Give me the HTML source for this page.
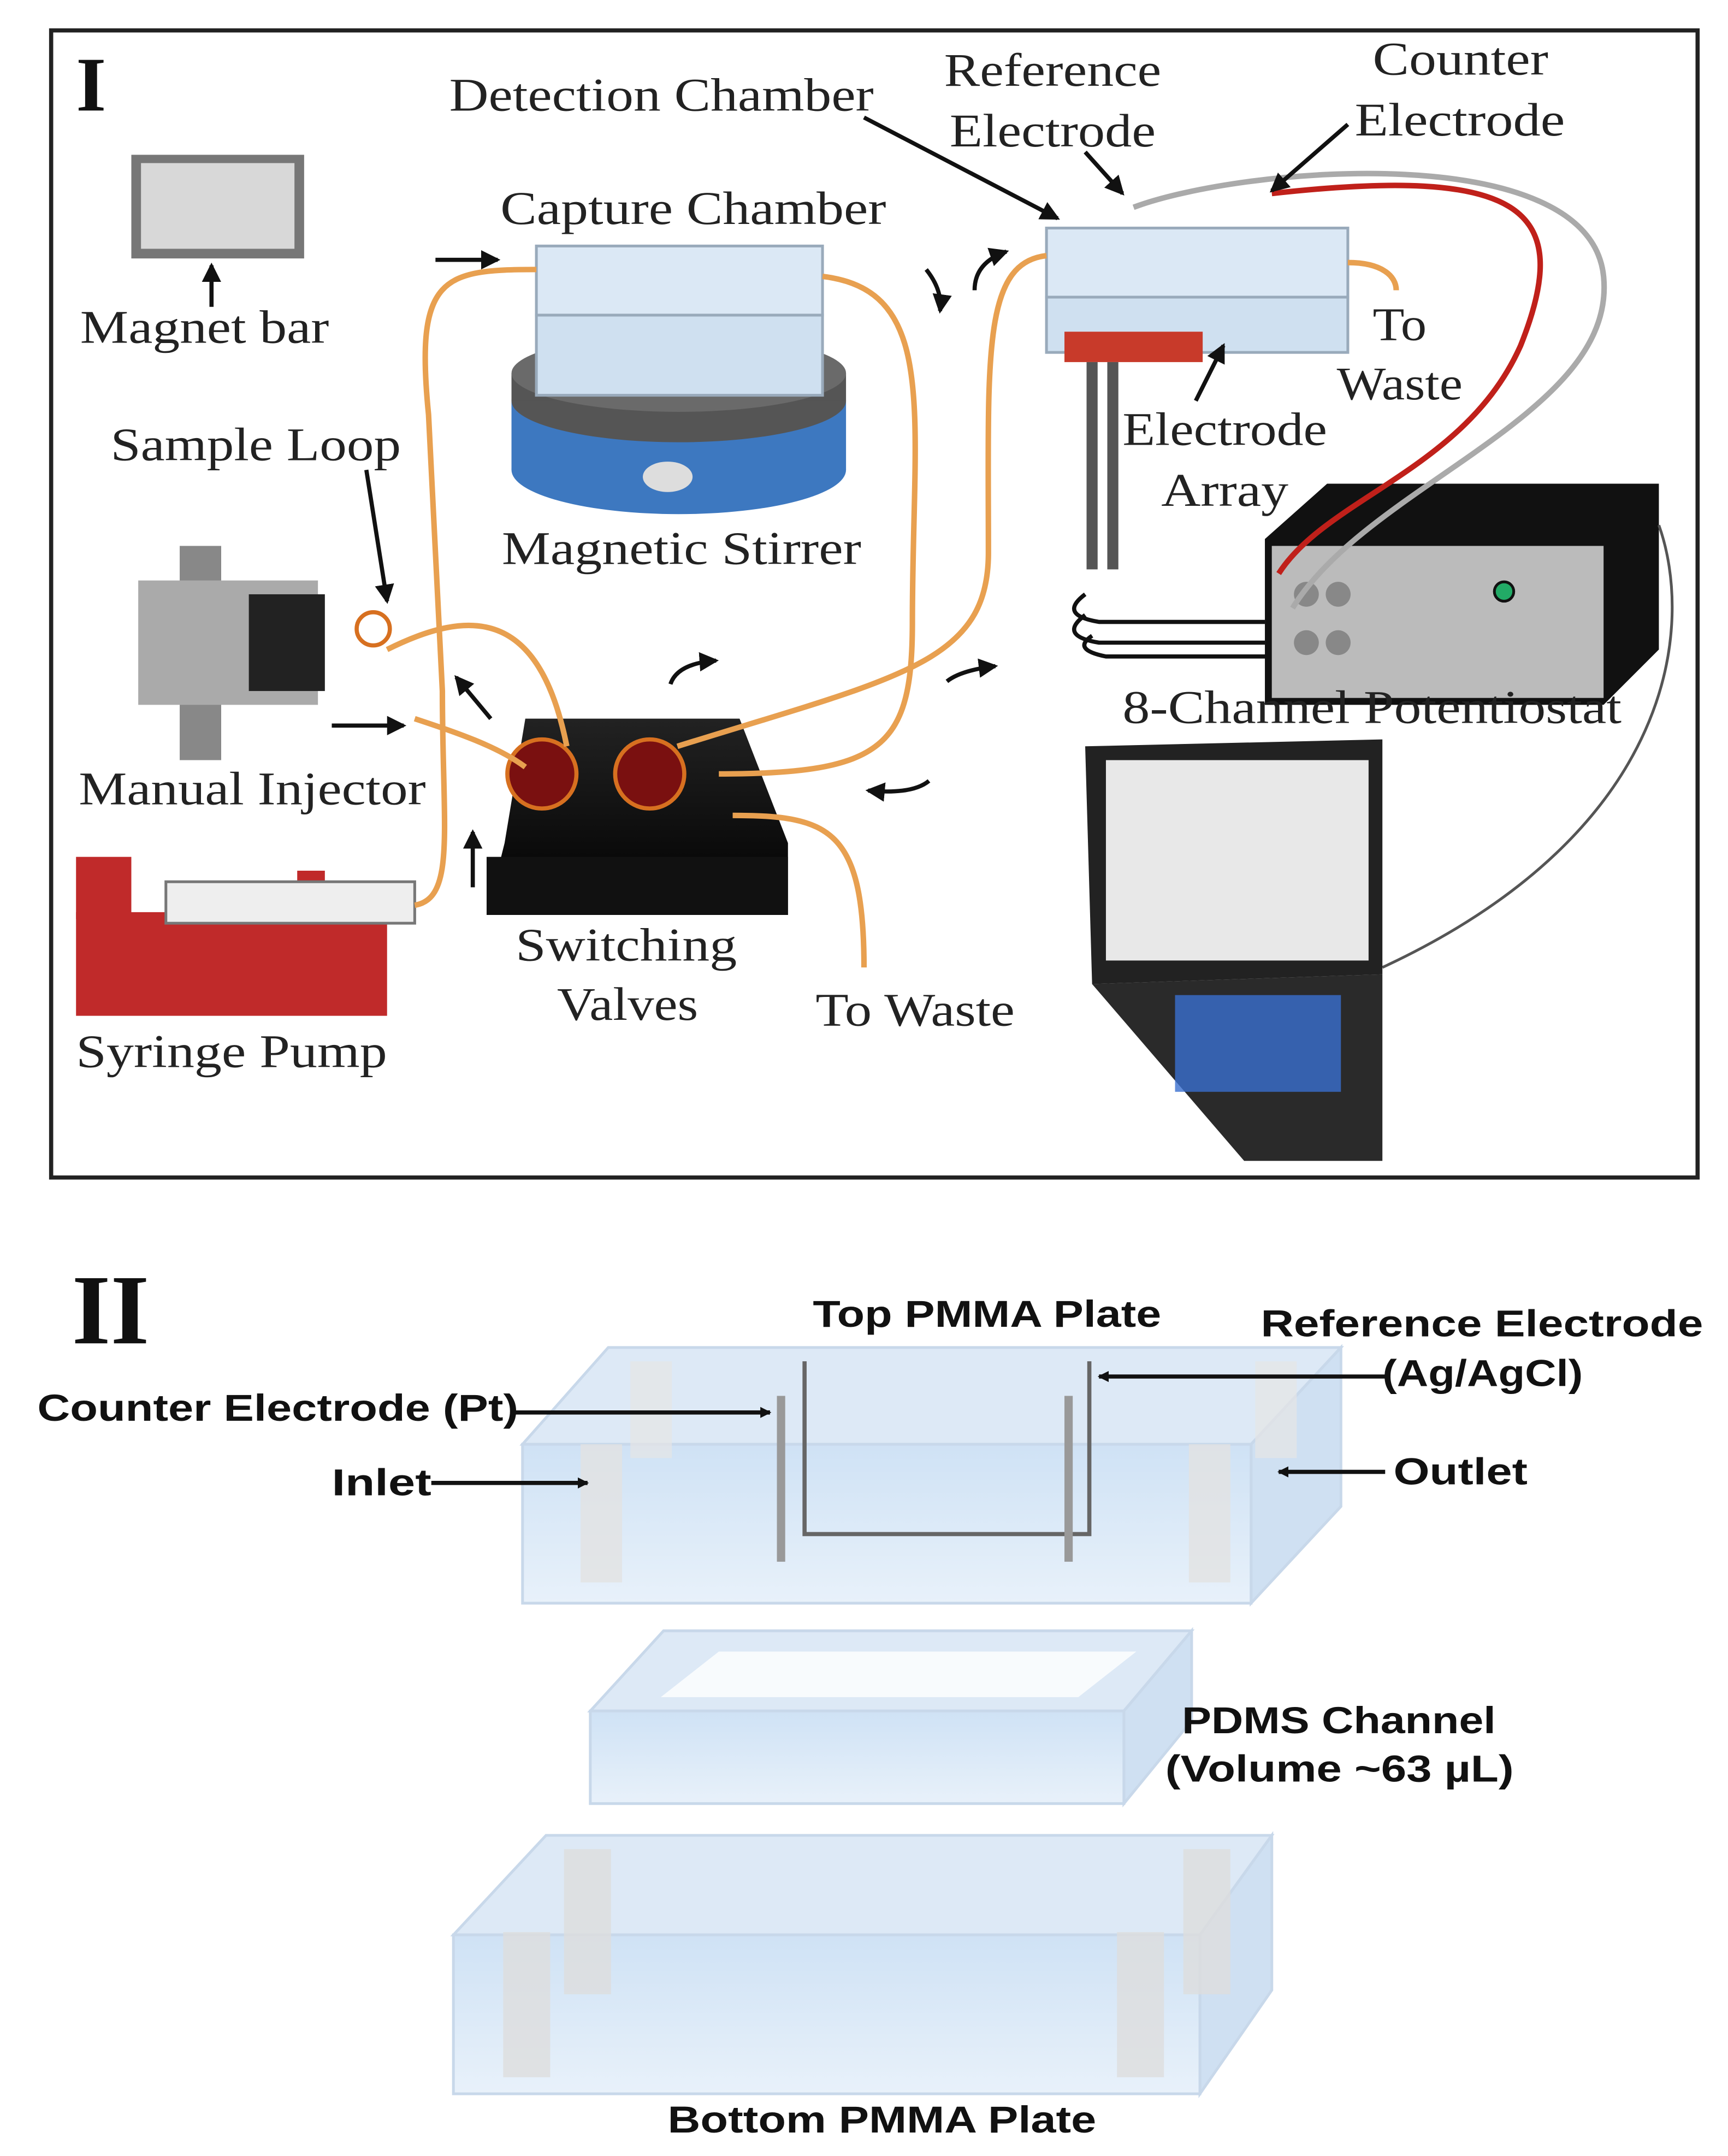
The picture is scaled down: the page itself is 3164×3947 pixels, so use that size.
<!DOCTYPE html>
<html><head><meta charset="utf-8">
<style>
html,body{margin:0;padding:0;background:#fff;}
svg{display:block;}
.s{font-family:"Liberation Serif",serif;font-size:34px;fill:#222;}
.b{font-family:"Liberation Sans",sans-serif;font-weight:bold;font-size:27px;fill:#111;}
.tube{fill:none;stroke:#e8a050;stroke-width:4;}
.ar{fill:none;stroke:#111;stroke-width:3;}
</style></head>
<body>
<svg width="3164" height="3947" viewBox="0 0 1250 1560" preserveAspectRatio="none" xmlns="http://www.w3.org/2000/svg">
<defs>
<marker id="m" markerWidth="8" markerHeight="8" refX="7" refY="4" orient="auto" markerUnits="userSpaceOnUse"><path d="M0,0 L8,4 L0,8 z" fill="#111"/></marker>
<marker id="m2" markerWidth="14" markerHeight="14" refX="12" refY="7" orient="auto" markerUnits="userSpaceOnUse"><path d="M0,0 L14,7 L0,14 z" fill="#111"/></marker>
<linearGradient id="gb" x1="0" y1="0" x2="0" y2="1"><stop offset="0" stop-color="#cfe2f5"/><stop offset="1" stop-color="#e8f1fa"/></linearGradient>
<linearGradient id="blk" x1="0" y1="0" x2="0" y2="1"><stop offset="0" stop-color="#222"/><stop offset="1" stop-color="#000"/></linearGradient>
</defs>
<rect width="1250" height="1560" fill="#fff"/>
<rect x="37" y="22" width="1191" height="830" fill="#fff" stroke="#222" stroke-width="3"/>
<text x="55" y="80" font-family="Liberation Serif,serif" font-weight="bold" font-size="56" fill="#111">I</text>

<rect x="95" y="112" width="125" height="75" fill="#777"/>
<rect x="102" y="118" width="111" height="62" fill="#d8d8d8"/>
<path class="ar" d="M153,222 L153,192" marker-end="url(#m2)"/>
<ellipse cx="491" cy="340" rx="121" ry="32" fill="#3d78c0"/>
<rect x="370" y="290" width="242" height="50" fill="#3d78c0"/>
<ellipse cx="491" cy="290" rx="121" ry="30" fill="#555"/>
<rect x="370" y="270" width="242" height="20" fill="#555"/>
<ellipse cx="491" cy="270" rx="121" ry="28" fill="#6a6a6a"/>
<ellipse cx="483" cy="345" rx="18" ry="11" fill="#ddd"/>
<rect x="388" y="228" width="207" height="58" fill="#cfe0f0" stroke="#9ab" stroke-width="2"/>
<rect x="388" y="178" width="207" height="50" fill="#dbe8f5" stroke="#9ab" stroke-width="2"/>
<rect x="757" y="215" width="218" height="40" fill="#cfe0f0" stroke="#9ab" stroke-width="2"/>
<rect x="757" y="165" width="218" height="50" fill="#dbe8f5" stroke="#9ab" stroke-width="2"/>
<rect x="770" y="240" width="100" height="22" fill="#c83a2a"/>
<path d="M790,262 v150 M805,262 v150" stroke="#555" stroke-width="8"/>
<path d="M785,430 q-20,15 10,20 h120 M785,445 q-20,15 10,20 h120 M790,460 q-15,10 10,15 h120" fill="none" stroke="#111" stroke-width="3"/>
<polygon points="915,390 960,350 1200,350 1200,470 1160,510 915,510" fill="#111"/>
<rect x="920" y="395" width="240" height="110" fill="#bbb"/>
<circle cx="1088" cy="428" r="7" fill="#2a6" stroke="#111" stroke-width="2"/>
<circle cx="945" cy="430" r="9" fill="#888"/><circle cx="968" cy="430" r="9" fill="#888"/><circle cx="945" cy="465" r="9" fill="#888"/><circle cx="968" cy="465" r="9" fill="#888"/>
<path d="M920,140 C1100,120 1140,150 1100,250 C1060,340 960,360 925,415" fill="none" stroke="#c0201a" stroke-width="4"/>
<path d="M820,150 C900,120 1150,100 1160,200 C1170,300 990,350 935,440" fill="none" stroke="#aaa" stroke-width="4"/>
<path d="M1200,380 C1225,450 1215,600 1000,700" fill="none" stroke="#555" stroke-width="2"/>
<polygon points="785,540 1000,535 1000,705 790,712" fill="#222"/>
<rect x="800" y="550" width="190" height="145" fill="#e8e8e8"/>
<polygon points="790,712 1000,705 1000,840 900,840" fill="#2a2a2a"/>
<rect x="850" y="720" width="120" height="70" fill="#3a6fd0" opacity="0.8"/>
<rect x="130" y="395" width="30" height="155" fill="#888"/>
<rect x="100" y="420" width="130" height="90" fill="#aaa"/>
<rect x="180" y="430" width="55" height="70" fill="#222"/>
<circle cx="270" cy="455" r="12" fill="none" stroke="#d77020" stroke-width="3"/>
<rect x="55" y="660" width="225" height="75" fill="#c02a2a"/>
<rect x="55" y="620" width="40" height="45" fill="#c02a2a"/>
<rect x="215" y="630" width="20" height="35" fill="#c02a2a"/>
<rect x="120" y="638" width="180" height="30" fill="#eee" stroke="#777" stroke-width="2"/>
<polygon points="352,662 570,662 570,610 535,520 380,520 365,610" fill="url(#blk)"/>
<rect x="352" y="620" width="218" height="42" fill="#111"/>
<circle cx="392" cy="560" r="25" fill="#7a1010" stroke="#d77020" stroke-width="3"/>
<circle cx="470" cy="560" r="25" fill="#7a1010" stroke="#d77020" stroke-width="3"/>
<path class="tube" d="M300,655 C330,650 320,600 320,500 L310,300 C300,200 320,195 388,195"/>
<path class="tube" d="M595,200 C680,210 660,300 660,450 C660,540 640,560 520,560"/>
<path class="tube" d="M757,185 C710,190 715,260 715,400 C715,480 650,490 490,540"/>
<path class="tube" d="M975,190 C1000,190 1010,200 1010,210"/>
<path class="tube" d="M530,590 C600,590 625,600 625,700"/>
<path class="tube" d="M280,470 C340,440 390,440 410,540"/>
<path class="tube" d="M300,520 C330,530 360,540 380,555"/>
<path class="ar" d="M315,188 L360,188" marker-end="url(#m2)"/>
<path class="ar" d="M240,525 L292,525" marker-end="url(#m2)"/>
<path class="ar" d="M355,520 L330,490" marker-end="url(#m2)"/>
<path class="ar" d="M342,642 L342,602" marker-end="url(#m2)"/>
<path class="ar" d="M485,495 Q490,480 518,478" marker-end="url(#m2)"/>
<path class="ar" d="M685,493 Q695,485 720,482" marker-end="url(#m2)"/>
<path class="ar" d="M672,565 Q660,575 628,572" marker-end="url(#m2)"/>
<path class="ar" d="M670,195 Q682,210 680,225" marker-end="url(#m2)"/>
<path class="ar" d="M705,210 Q705,190 728,182" marker-end="url(#m2)"/>
<path class="ar" d="M625,85 L765,158" marker-end="url(#m2)"/>
<path class="ar" d="M785,110 L812,140" marker-end="url(#m2)"/>
<path class="ar" d="M975,90 L920,138" marker-end="url(#m2)"/>
<path class="ar" d="M265,340 L280,435" marker-end="url(#m2)"/>
<path class="ar" d="M865,290 L885,250" marker-end="url(#m2)"/>

<g lengthAdjust="spacingAndGlyphs">
<text class="s" x="325" y="80" textLength="307" lengthAdjust="spacingAndGlyphs">Detection Chamber</text>
<text class="s" x="683" y="62" textLength="157" lengthAdjust="spacingAndGlyphs">Reference</text>
<text class="s" x="687" y="106" textLength="149" lengthAdjust="spacingAndGlyphs">Electrode</text>
<text class="s" x="993" y="54" textLength="127" lengthAdjust="spacingAndGlyphs">Counter</text>
<text class="s" x="980" y="98" textLength="152" lengthAdjust="spacingAndGlyphs">Electrode</text>
<text class="s" x="362" y="162" textLength="279" lengthAdjust="spacingAndGlyphs">Capture Chamber</text>
<text class="s" x="58" y="248" textLength="180" lengthAdjust="spacingAndGlyphs">Magnet bar</text>
<text class="s" x="80" y="333" textLength="210" lengthAdjust="spacingAndGlyphs">Sample Loop</text>
<text class="s" x="363" y="408" textLength="260" lengthAdjust="spacingAndGlyphs">Magnetic Stirrer</text>
<text class="s" x="812" y="322" textLength="148" lengthAdjust="spacingAndGlyphs">Electrode</text>
<text class="s" x="840" y="366" textLength="92" lengthAdjust="spacingAndGlyphs">Array</text>
<text class="s" x="993" y="246" textLength="39" lengthAdjust="spacingAndGlyphs">To</text>
<text class="s" x="967" y="289" textLength="91" lengthAdjust="spacingAndGlyphs">Waste</text>
<text class="s" x="812" y="523" textLength="361" lengthAdjust="spacingAndGlyphs">8-Channel Potentiostat</text>
<text class="s" x="57" y="582" textLength="251" lengthAdjust="spacingAndGlyphs">Manual Injector</text>
<text class="s" x="55" y="772" textLength="225" lengthAdjust="spacingAndGlyphs">Syringe Pump</text>
<text class="s" x="373" y="695" textLength="160" lengthAdjust="spacingAndGlyphs">Switching</text>
<text class="s" x="403" y="738" textLength="102" lengthAdjust="spacingAndGlyphs">Valves</text>
<text class="s" x="590" y="742" textLength="144" lengthAdjust="spacingAndGlyphs">To Waste</text>
</g>

<text x="52" y="972" font-family="Liberation Serif,serif" font-weight="bold" font-size="72" fill="#111">II</text>
<polygon points="378,1045 440,975 970,975 905,1045" fill="#dde9f6" stroke="#c8d8ea" stroke-width="2"/>
<polygon points="905,1045 970,975 970,1090 905,1160" fill="#cfe0f2" stroke="#c8d8ea" stroke-width="2"/>
<rect x="378" y="1045" width="527" height="115" fill="url(#gb)" stroke="#c8d8ea" stroke-width="2"/>
<rect x="420" y="1045" width="30" height="100" fill="#e2e2e2" opacity="0.8"/>
<rect x="860" y="1045" width="30" height="100" fill="#e2e2e2" opacity="0.8"/>
<rect x="456" y="985" width="30" height="70" fill="#e6e6e6" opacity="0.7"/>
<rect x="908" y="985" width="30" height="70" fill="#e6e6e6" opacity="0.7"/>
<path d="M582,985 V1110 H788 V985" fill="none" stroke="#666" stroke-width="3"/>
<rect x="562" y="1010" width="6" height="120" fill="#999"/>
<rect x="770" y="1010" width="6" height="120" fill="#999"/>
<polygon points="427,1238 480,1180 862,1180 813,1238" fill="#dde9f6" stroke="#c8d8ea" stroke-width="2"/>
<polygon points="813,1238 862,1180 862,1245 813,1305" fill="#cfe0f2" stroke="#c8d8ea" stroke-width="2"/>
<rect x="427" y="1238" width="386" height="67" fill="url(#gb)" stroke="#c8d8ea" stroke-width="2"/>
<polygon points="478,1228 520,1195 822,1195 780,1228" fill="#fff" opacity="0.8"/>
<polygon points="328,1400 395,1328 920,1328 868,1400" fill="#dde9f6" stroke="#c8d8ea" stroke-width="2"/>
<polygon points="868,1400 920,1328 920,1440 868,1515" fill="#cfe0f2" stroke="#c8d8ea" stroke-width="2"/>
<rect x="328" y="1400" width="540" height="115" fill="url(#gb)" stroke="#c8d8ea" stroke-width="2"/>
<rect x="408" y="1338" width="34" height="105" fill="#ddd" opacity="0.8"/>
<rect x="856" y="1338" width="34" height="105" fill="#ddd" opacity="0.8"/>
<rect x="364" y="1398" width="34" height="105" fill="#ddd" opacity="0.8"/>
<rect x="808" y="1398" width="34" height="105" fill="#ddd" opacity="0.8"/>

<path class="ar" stroke-width="2" d="M372,1022 L557,1022" marker-end="url(#m)"/>
<path class="ar" stroke-width="2" d="M1002,996 L795,996" marker-end="url(#m)"/>
<path class="ar" stroke-width="2" d="M312,1073 L425,1073" marker-end="url(#m)"/>
<path class="ar" stroke-width="2" d="M1002,1065 L925,1065" marker-end="url(#m)"/>

<text class="b" x="588" y="960" textLength="252" lengthAdjust="spacingAndGlyphs">Top PMMA Plate</text>
<text class="b" x="912" y="967" textLength="320" lengthAdjust="spacingAndGlyphs">Reference Electrode</text>
<text class="b" x="1000" y="1003" textLength="145" lengthAdjust="spacingAndGlyphs">(Ag/AgCl)</text>
<text class="b" x="27" y="1028" textLength="348" lengthAdjust="spacingAndGlyphs">Counter Electrode (Pt)</text>
<text class="b" x="240" y="1082" textLength="72" lengthAdjust="spacingAndGlyphs">Inlet</text>
<text class="b" x="1008" y="1074" textLength="97" lengthAdjust="spacingAndGlyphs">Outlet</text>
<text class="b" x="855" y="1254" textLength="227" lengthAdjust="spacingAndGlyphs">PDMS Channel</text>
<text class="b" x="843" y="1289" textLength="252" lengthAdjust="spacingAndGlyphs">(Volume ~63 µL)</text>
<text class="b" x="483" y="1543" textLength="310" lengthAdjust="spacingAndGlyphs">Bottom PMMA Plate</text>
</svg>
</body></html>
